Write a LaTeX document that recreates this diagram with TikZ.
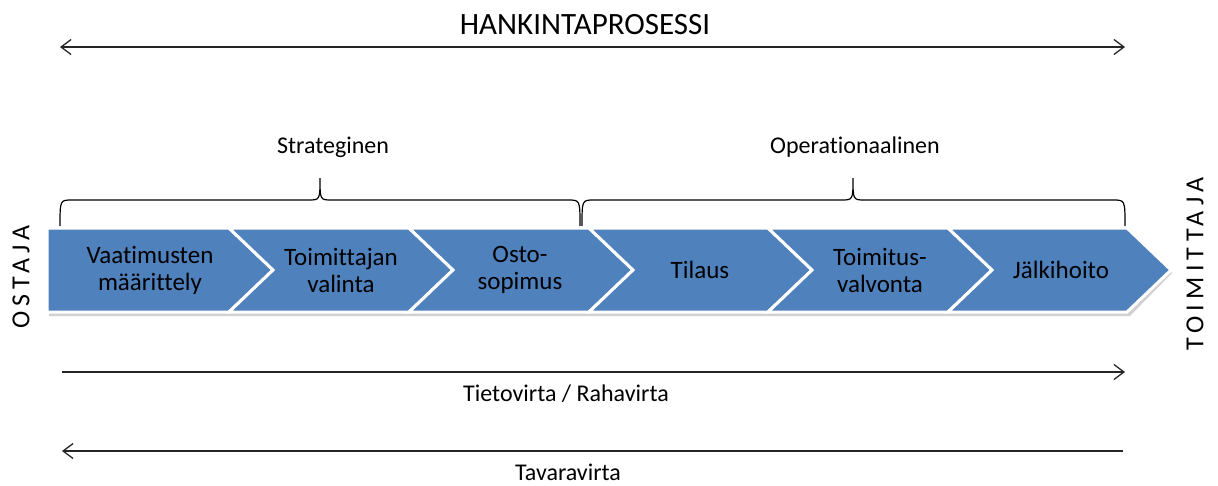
\documentclass[tikz,border=0pt]{standalone}
\usepackage{fontspec}
\setmainfont[Ligatures=NoCommon]{Carlito}
\usetikzlibrary{arrows.meta}
\definecolor{chevblue}{HTML}{4F81BD}
\tikzset{
  chev/.style={fill=chevblue, draw=white, line width=3pt, line join=miter},
  lbl/.style={font=\fontsize{25}{27}\selectfont, align=center, text=black, inner sep=0pt},
  smalltxt/.style={font=\fontsize{24}{28}\selectfont, inner sep=0pt},
  flow/.style={line width=1.3pt, draw=black!85},
  side/.style={font=\fontsize{26}{30}\selectfont\addfontfeature{LetterSpace=20}, inner sep=0pt, rotate=90},
  bracestyle/.style={line width=1.2pt, draw=black}
}
\begin{document}
\begin{tikzpicture}[x=1pt,y=-1pt]
\useasboundingbox (0,0) rectangle (1218,485);
% title and process arrow
\node[font=\fontsize{31}{34}\selectfont, inner sep=0pt] (title) at (585,25) {HANKINTAPROSESSI};
\coordinate (pL) at (60,47);
\coordinate (pR) at (1125,47);
\draw[flow, {Straight Barb[length=10pt,width=15pt]}-{Straight Barb[length=10pt,width=15pt]}] (pL) -- (pR);
% braces
\draw[bracestyle] (60,226) .. controls (60,200) .. (72,200) -- (308,200) .. controls (320,200) .. (320,178) .. controls (320,200) .. (332,200) -- (568,200) .. controls (580,200) .. (580,226);
\draw[bracestyle] (582,226) .. controls (582,200) .. (594,200) -- (841,200) .. controls (853,200) .. (853,178) .. controls (853,200) .. (865,200) -- (1113,200) .. controls (1125,200) .. (1125,226);
\node[smalltxt] (strat) at (333,147) {Strateginen};
\node[smalltxt] (oper) at (855,147) {Operationaalinen};
% shadow
\fill[black, opacity=0.18] (49,231) -- (1130,231) -- (1172,273) -- (1130,316) -- (49,316) -- cycle;
% chevrons
\path[chev] (47,228) -- (229,228) -- (273,270) -- (229,312) -- (47,312) -- cycle;
\path[chev] (229,228) -- (409,228) -- (453,270) -- (409,312) -- (229,312) -- (273,270) -- cycle;
\path[chev] (409,228) -- (589,228) -- (633,270) -- (589,312) -- (409,312) -- (453,270) -- cycle;
\path[chev] (589,228) -- (768,228) -- (812,270) -- (768,312) -- (589,312) -- (633,270) -- cycle;
\path[chev] (768,228) -- (948,228) -- (992,270) -- (948,312) -- (768,312) -- (812,270) -- cycle;
\path[chev] (948,228) -- (1127,228) -- (1171,270) -- (1127,312) -- (948,312) -- (992,270) -- cycle;
% chevron labels
\node[lbl] (c1) at (150,270) {Vaatimusten\\määrittely};
\node[lbl] (c2) at (341,270) {Toimittajan\\valinta};
\node[lbl] (c3) at (520,270) {Osto-\\sopimus};
\node[lbl] (c4) at (700,270) {Tilaus};
\node[lbl] (c5) at (880,270) {Toimitus-\\valvonta};
\node[lbl] (c6) at (1061,270) {Jälkihoito};
% side labels
\node[side] (ostaja) at (21,277) {OSTAJA};
\node[side] (toimittaja) at (1195,264) {TOIMITTAJA};
% flows
\coordinate (tL) at (62,372);
\coordinate (tR) at (1125,372);
\draw[flow, -{Straight Barb[length=10pt,width=15pt]}] (tL) -- (tR);
\node[smalltxt] (tieto) at (566,394) {Tietovirta / Rahavirta};
\coordinate (vL) at (62,451);
\coordinate (vR) at (1123,451);
\draw[flow, {Straight Barb[length=10pt,width=15pt]}-] (vL) -- (vR);
\node[smalltxt] (tavara) at (568,472) {Tavaravirta};
\end{tikzpicture}
\end{document}
